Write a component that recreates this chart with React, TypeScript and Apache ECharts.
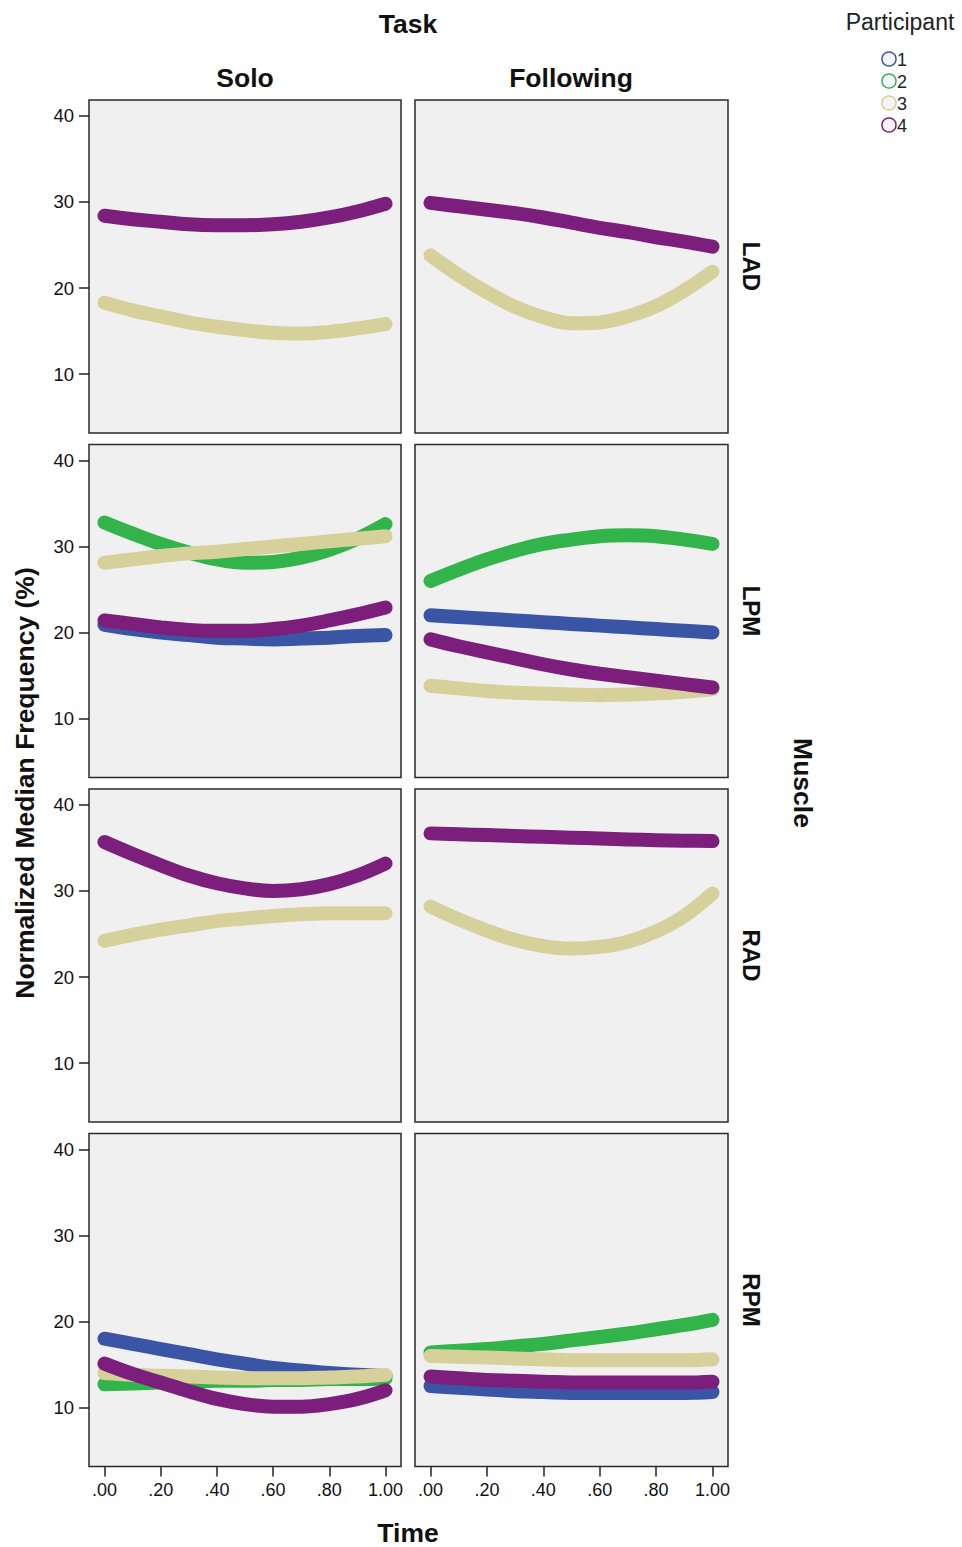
import React, { useEffect, useRef } from "react";
import * as echarts from "echarts";

// ---------- data ----------
const timePoints = [0, 0.1, 0.2, 0.3, 0.4, 0.5, 0.6, 0.7, 0.8, 0.9, 1.0];
const xTickValues = [0, 0.2, 0.4, 0.6, 0.8, 1.0];
const yTickValues = [10, 20, 30, 40];
const muscles = ["LAD", "LPM", "RAD", "RPM"];
const tasks = ["Solo", "Following"];
const participants = ["1", "2", "3", "4"];
const participantColors = ["#3B55A6", "#33B44A", "#D6D09A", "#7B1E7C"];

// LAD
const ladSolo3 = [18.3, 17.4, 16.7, 16.0, 15.5, 15.1, 14.8, 14.7, 14.9, 15.3, 15.8];
const ladSolo4 = [28.4, 28.0, 27.7, 27.4, 27.3, 27.3, 27.4, 27.7, 28.2, 28.9, 29.8];
const ladFollowing3 = [23.8, 21.5, 19.5, 17.8, 16.6, 15.9, 16.0, 16.7, 17.9, 19.7, 21.9];
const ladFollowing4 = [29.9, 29.5, 29.1, 28.7, 28.2, 27.6, 27.0, 26.5, 25.9, 25.4, 24.8];
// LPM
const lpmSolo1 = [20.9, 20.4, 20.0, 19.7, 19.4, 19.3, 19.2, 19.3, 19.4, 19.6, 19.7];
const lpmSolo2 = [32.8, 31.5, 30.3, 29.3, 28.5, 28.1, 28.2, 28.7, 29.6, 30.9, 32.6];
const lpmSolo3 = [28.1, 28.5, 28.9, 29.2, 29.4, 29.7, 30.0, 30.3, 30.6, 30.9, 31.2];
const lpmSolo4 = [21.4, 21.0, 20.6, 20.3, 20.2, 20.2, 20.4, 20.8, 21.4, 22.1, 22.9];
const lpmFollowing1 = [22.0, 21.8, 21.6, 21.4, 21.2, 21.0, 20.8, 20.6, 20.4, 20.2, 20.0];
const lpmFollowing2 = [26.0, 27.3, 28.5, 29.5, 30.3, 30.8, 31.2, 31.3, 31.2, 30.8, 30.3];
const lpmFollowing3 = [13.8, 13.5, 13.2, 13.0, 12.9, 12.8, 12.7, 12.8, 12.9, 13.1, 13.4];
const lpmFollowing4 = [19.2, 18.4, 17.7, 17.0, 16.3, 15.7, 15.2, 14.8, 14.4, 14.0, 13.6];
// RAD
const radSolo3 = [24.2, 24.9, 25.5, 26.0, 26.5, 26.8, 27.1, 27.3, 27.4, 27.4, 27.4];
const radSolo4 = [35.7, 34.3, 33.0, 31.8, 30.9, 30.3, 30.0, 30.2, 30.8, 31.8, 33.2];
const radFollowing3 = [28.2, 26.7, 25.4, 24.3, 23.6, 23.3, 23.5, 24.1, 25.3, 27.1, 29.7];
const radFollowing4 = [36.7, 36.6, 36.5, 36.4, 36.3, 36.2, 36.1, 36.0, 35.9, 35.85, 35.8];
// RPM
const rpmSolo1 = [18.0, 17.4, 16.8, 16.2, 15.6, 15.1, 14.6, 14.3, 14.0, 13.8, 13.7];
const rpmSolo2 = [12.7, 12.8, 12.9, 13.0, 13.1, 13.1, 13.2, 13.2, 13.3, 13.3, 13.4];
const rpmSolo3 = [14.0, 13.8, 13.7, 13.6, 13.5, 13.4, 13.4, 13.4, 13.5, 13.6, 13.8];
const rpmSolo4 = [15.1, 13.9, 12.9, 11.9, 11.0, 10.4, 10.1, 10.1, 10.4, 11.0, 12.0];
const rpmFollowing1 = [12.5, 12.3, 12.1, 11.9, 11.8, 11.7, 11.7, 11.7, 11.7, 11.7, 11.8];
const rpmFollowing2 = [16.4, 16.6, 16.8, 17.1, 17.4, 17.8, 18.2, 18.6, 19.1, 19.6, 20.2];
const rpmFollowing3 = [16.0, 15.9, 15.8, 15.7, 15.6, 15.5, 15.5, 15.5, 15.5, 15.5, 15.6];
const rpmFollowing4 = [13.6, 13.4, 13.2, 13.1, 13.0, 12.9, 12.9, 12.9, 12.9, 12.9, 13.0];

// [muscleIndex, taskIndex, participantIndex, values]
const curveTable: [number, number, number, number[]][] = [
  [0, 0, 2, ladSolo3],
  [0, 0, 3, ladSolo4],
  [0, 1, 2, ladFollowing3],
  [0, 1, 3, ladFollowing4],
  [1, 0, 0, lpmSolo1],
  [1, 0, 1, lpmSolo2],
  [1, 0, 2, lpmSolo3],
  [1, 0, 3, lpmSolo4],
  [1, 1, 0, lpmFollowing1],
  [1, 1, 1, lpmFollowing2],
  [1, 1, 2, lpmFollowing3],
  [1, 1, 3, lpmFollowing4],
  [2, 0, 2, radSolo3],
  [2, 0, 3, radSolo4],
  [2, 1, 2, radFollowing3],
  [2, 1, 3, radFollowing4],
  [3, 0, 0, rpmSolo1],
  [3, 0, 1, rpmSolo2],
  [3, 0, 2, rpmSolo3],
  [3, 0, 3, rpmSolo4],
  [3, 1, 0, rpmFollowing1],
  [3, 1, 1, rpmFollowing2],
  [3, 1, 2, rpmFollowing3],
  [3, 1, 3, rpmFollowing4],
];

// ---------- layout ----------
const colLeft = [89, 415];
const colWidth = [312, 313];
const rowTop0 = 100;
const rowPitch = 344.5;
const panelHeight = 333;
const FONT = '"Liberation Sans", Arial, sans-serif';

function fmtX(v: number) {
  const s = v.toFixed(2);
  return s.startsWith("0") ? s.slice(1) : s;
}

function buildOption() {
  const grid: any[] = [];
  const xAxis: any[] = [];
  const yAxis: any[] = [];
  const gridIndex = (r: number, c: number) => r * 2 + c;
  for (let r = 0; r < muscles.length; r++) {
    for (let c = 0; c < tasks.length; c++) {
      grid.push({
        left: colLeft[c],
        top: rowTop0 + r * rowPitch,
        width: colWidth[c],
        height: panelHeight,
        show: true,
        backgroundColor: "#F0F0F0",
        borderColor: "#2a2a2a",
        borderWidth: 1.5,
      });
      const bottom = r === muscles.length - 1;
      xAxis.push({
        gridIndex: gridIndex(r, c),
        type: "value",
        position: "bottom",
        min: -0.055,
        max: 1.055,
        axisLine: { show: false, onZero: false },
        splitLine: { show: false },
        axisTick: {
          show: bottom,
          customValues: xTickValues,
          length: 10,
          lineStyle: { color: "#222", width: 1.5 },
        },
        axisLabel: {
          show: bottom,
          customValues: xTickValues,
          formatter: (v: number) => fmtX(v),
          margin: 14,
          color: "#111",
          fontSize: 18,
          fontFamily: FONT,
        },
      });
      yAxis.push({
        gridIndex: gridIndex(r, c),
        type: "value",
        position: "left",
        min: 3.14,
        max: 41.86,
        axisLine: { show: false, onZero: false },
        splitLine: { show: false },
        axisTick: {
          show: c === 0,
          customValues: yTickValues,
          length: 10,
          lineStyle: { color: "#222", width: 1.5 },
        },
        axisLabel: {
          show: c === 0,
          customValues: yTickValues,
          formatter: (v: number) => String(Math.round(v)),
          margin: 15,
          color: "#111",
          fontSize: 18.5,
          fontFamily: FONT,
        },
      });
    }
  }

  const series = curveTable.map(([m, t, p, values]) => ({
    type: "line",
    name: participants[p],
    xAxisIndex: gridIndex(m, t),
    yAxisIndex: gridIndex(m, t),
    data: timePoints.map((x, i) => [x, values[i]]),
    smooth: 0.4,
    symbol: "none",
    z: 2 + p,
    lineStyle: { width: 14, color: participantColors[p], cap: "round", join: "round" },
  }));

  const bold = `bold 26.5px ${FONT}`;
  const graphic: any[] = [
    { type: "text", x: 408, y: 24, style: { text: "Task", font: bold, fill: "#111", align: "center", verticalAlign: "middle" } },
    { type: "text", x: 245, y: 78, style: { text: tasks[0], font: bold, fill: "#111", align: "center", verticalAlign: "middle" } },
    { type: "text", x: 571, y: 78, style: { text: tasks[1], font: bold, fill: "#111", align: "center", verticalAlign: "middle" } },
    { type: "text", x: 408, y: 1533, style: { text: "Time", font: bold, fill: "#111", align: "center", verticalAlign: "middle" } },
    {
      type: "text", x: 25, y: 783, rotation: Math.PI / 2,
      style: { text: "Normalized Median Frequency (%)", font: bold, fill: "#111", align: "center", verticalAlign: "middle" },
    },
    {
      type: "text", x: 803, y: 783, rotation: -Math.PI / 2,
      style: { text: "Muscle", font: bold, fill: "#111", align: "center", verticalAlign: "middle" },
    },
    { type: "text", x: 900, y: 22, style: { text: "Participant", font: `23px ${FONT}`, fill: "#222", align: "center", verticalAlign: "middle" } },
  ];
  muscles.forEach((m, r) => {
    graphic.push({
      type: "text", x: 751, y: rowTop0 + r * rowPitch + panelHeight / 2, rotation: -Math.PI / 2,
      style: { text: m, font: `bold 24px ${FONT}`, fill: "#111", align: "center", verticalAlign: "middle" },
    });
  });
  const legendY = [59, 81, 103, 125];
  participants.forEach((p, i) => {
    graphic.push({
      type: "circle", shape: { cx: 889, cy: legendY[i], r: 7 },
      style: { fill: "#F4F4FA", stroke: participantColors[i], lineWidth: 1.5 },
    });
    graphic.push({
      type: "text", x: 897, y: legendY[i] + 1,
      style: { text: p, font: `18px ${FONT}`, fill: "#222", align: "left", verticalAlign: "middle" },
    });
  });

  return { animation: false, backgroundColor: "#fff", grid, xAxis, yAxis, series, graphic };
}

export default function App() {
  const ref = useRef<HTMLDivElement>(null);
  useEffect(() => {
    if (!ref.current) return;
    const chart = echarts.init(ref.current, undefined, { renderer: "svg" });
    chart.setOption(buildOption() as any);
    return () => chart.dispose();
  }, []);
  return (
    <div
      ref={ref}
      style={{ position: "absolute", left: 0, top: 0, width: 962, height: 1547, background: "#fff" }}
    />
  );
}
